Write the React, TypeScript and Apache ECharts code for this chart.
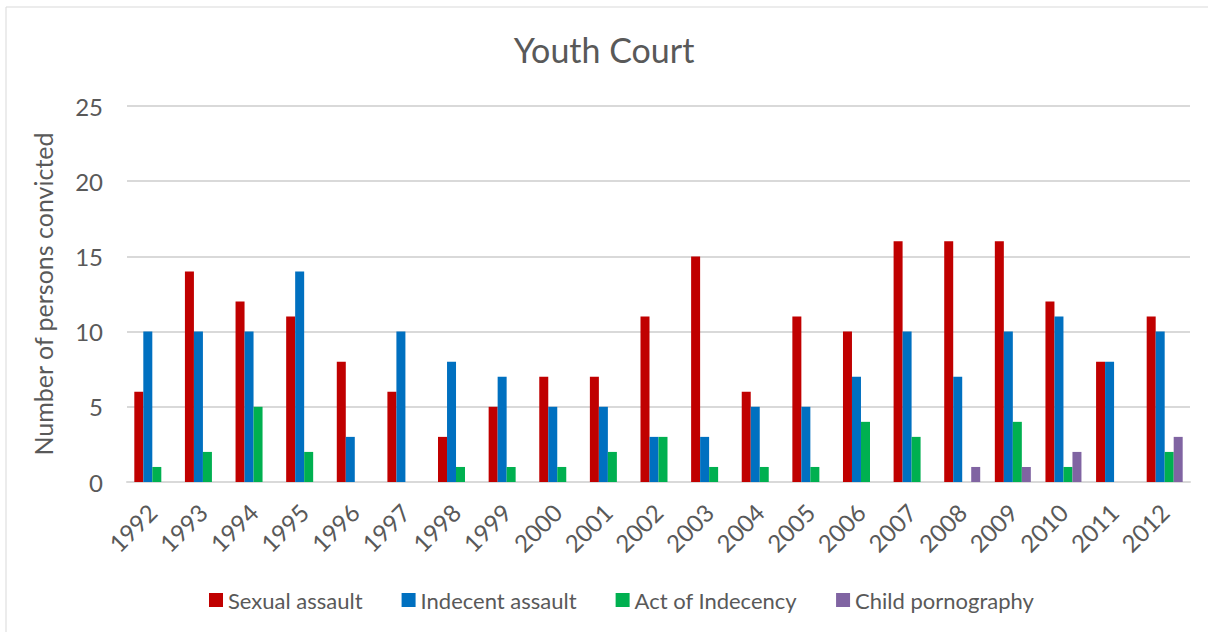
import React, { useEffect, useRef } from "react";
import * as echarts from "echarts";

const years = ["1992","1993","1994","1995","1996","1997","1998","1999","2000","2001","2002","2003","2004","2005","2006","2007","2008","2009","2010","2011","2012"];
const sexualAssault = [6,14,12,11,8,6,3,5,7,7,11,15,6,11,10,16,16,16,12,8,11];
const indecentAssault = [10,10,10,14,3,10,8,7,5,5,3,3,5,5,7,10,7,10,11,8,10];
const actOfIndecency = [1,2,5,2,0,0,1,1,1,2,3,1,1,1,4,3,0,4,1,0,2];
const childPornography = [0,0,0,0,0,0,0,0,0,0,0,0,0,0,0,0,1,1,2,0,3];

const seriesNames = ["Sexual assault","Indecent assault","Act of Indecency","Child pornography"];
const seriesColors = ["#C00000","#0070C0","#00B050","#8064A2"];

const FONT = "Lato, 'Liberation Sans', sans-serif";
const TEXT = "#595959";

export default function App() {
  const ref = useRef<HTMLDivElement>(null);
  useEffect(() => {
    if (!ref.current) return;
    const chart = echarts.init(ref.current, null, { renderer: "svg" });
    const data = [sexualAssault, indecentAssault, actOfIndecency, childPornography];
    chart.setOption({
      animation: false,
      backgroundColor: "#ffffff",
      textStyle: { fontFamily: FONT, color: TEXT },
      title: {
        text: "Youth Court",
        left: "center",
        top: 27,
        textStyle: { fontFamily: FONT, fontSize: 34, fontWeight: "normal", color: TEXT },
      },
      graphic: [
        {
          type: "rect",
          shape: { x: 6, y: 7, width: 1220, height: 640 },
          style: { fill: "none", stroke: "#d9d9d9", lineWidth: 1 },
          silent: true,
        },
      ],
      legend: {
        left: 204,
        top: 584,
        itemWidth: 14,
        itemHeight: 14,
        itemGap: 39,
        icon: "rect",
        textStyle: { fontFamily: FONT, fontSize: 22, color: TEXT },
        data: seriesNames,
      },
      grid: { left: 127, right: 18, top: 106, bottom: 150, containLabel: false },
      xAxis: {
        type: "category",
        data: years,
        axisLine: { lineStyle: { color: "#d9d9d9", width: 2 } },
        axisTick: { show: false },
        axisLabel: { rotate: 45, fontSize: 24, color: TEXT, fontFamily: FONT, margin: 26, interval: 0 },
      },
      yAxis: {
        type: "value",
        min: 0,
        max: 25,
        interval: 5,
        name: "Number of persons convicted",
        nameLocation: "middle",
        nameGap: 72,
        nameTextStyle: { fontFamily: FONT, fontSize: 25, color: TEXT },
        axisLine: { show: false },
        axisTick: { show: false },
        axisLabel: { fontSize: 24, color: TEXT, fontFamily: FONT, margin: 24 },
        splitLine: { lineStyle: { color: "#d9d9d9", width: 2 } },
      },
      series: data.map((d, i) => ({
        name: seriesNames[i],
        type: "bar",
        data: d,
        barWidth: 9,
        barGap: "0%",
        itemStyle: { color: seriesColors[i] },
      })),
    });
    return () => chart.dispose();
  }, []);
  return (
    <div
      ref={ref}
      style={{ position: "absolute", left: 0, top: 0, width: 1208, height: 632 }}
    />
  );
}
